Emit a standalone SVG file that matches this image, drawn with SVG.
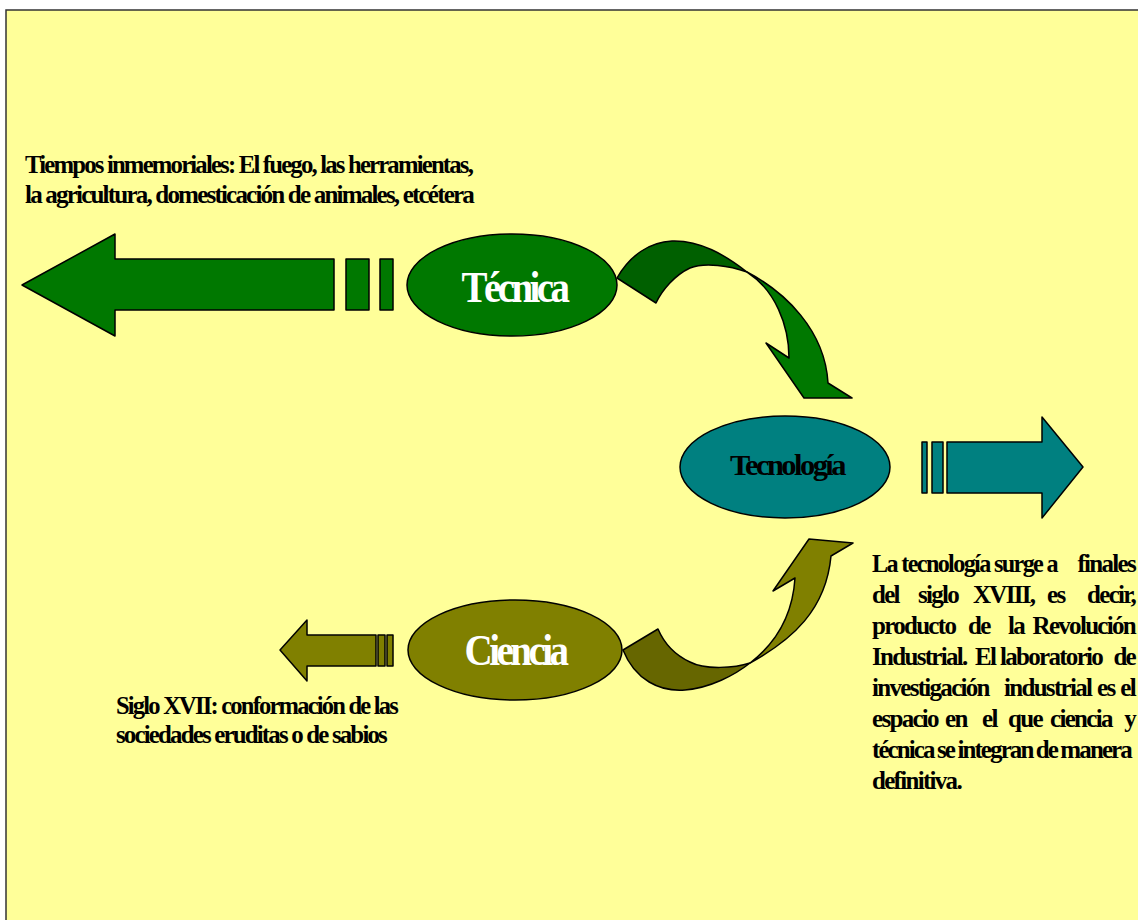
<svg xmlns="http://www.w3.org/2000/svg" width="1138" height="920" viewBox="0 0 1138 920">
<style>
.bg{fill:#FFFF99;stroke:#333;stroke-width:1.5}
.sh{stroke:#000;stroke-width:1.5;stroke-linejoin:round}
.t{font-family:"Liberation Serif","Times New Roman",serif;font-weight:bold}
.lbl{font-size:26px;letter-spacing:-1.9px;fill:#000}
.para{font-size:25px;letter-spacing:-1.7px;fill:#000}
.big{font-size:44px;letter-spacing:-4px;text-anchor:middle}
</style>
<rect class="bg" x="6" y="10" width="1140" height="920"/>
<g id="connectors">
  <g id="arrow-tecnica-left">
    <polygon class="sh" fill="#007800" points="22,285 115,234 115,259 334,259 334,310 115,310 115,336"/>
    <rect class="sh" fill="#007800" x="346" y="259" width="23" height="51"/>
    <rect class="sh" fill="#007800" x="380" y="259" width="13" height="51"/>
  </g>
  <g id="arrow-tecnica-tecnologia">
    <path class="sh" fill="#006000" d="M617,278 C630,255 650,242 672,241 C700,240 725,255 747,272 C730,266 705,262 690,268 C675,275 662,290 656,303 Z"/>
    <path class="sh" fill="#007800" d="M747,272 C785,292 825,330 828,383 L852,398 L804,398 L766,343 L789,358 C789,325 775,290 747,272 Z"/>
  </g>
  <g id="arrow-tecnologia-right">
    <rect class="sh" fill="#008080" x="922" y="442" width="5" height="51"/>
    <rect class="sh" fill="#008080" x="932" y="442" width="11" height="51"/>
    <polygon class="sh" fill="#008080" points="947,442 1042,442 1042,417 1083,467 1042,518 1042,493 947,493"/>
  </g>
  <g id="arrow-ciencia-left">
    <polygon class="sh" fill="#808000" points="280,650 307,620 307,635 376,635 376,666 307,666 307,681"/>
    <rect class="sh" fill="#808000" x="378" y="635" width="7" height="31"/>
    <rect class="sh" fill="#808000" x="387" y="635" width="6" height="31"/>
  </g>
  <g id="arrow-ciencia-tecnologia">
    <path class="sh" fill="#666600" d="M623,650 C635,680 660,692 685,690 C710,688 735,675 750,663 C735,668 705,670 690,662 C675,655 664,643 658,629 Z"/>
    <path class="sh" fill="#808000" d="M750,663 C792,640 826,610 831,556 L853,543 L809,539 L773,591 L795,578 C793,610 780,640 750,663 Z"/>
  </g>
</g>
<g id="node-tecnica">
  <ellipse class="sh" fill="#007800" cx="512" cy="285" rx="105" ry="51"/>
  <text class="t big" x="514" y="302" fill="#fff" textLength="105" lengthAdjust="spacingAndGlyphs">Técnica</text>
</g>
<g id="node-tecnologia">
  <ellipse class="sh" fill="#008080" cx="785" cy="467" rx="105" ry="51"/>
  <text class="t" x="787" y="475" font-size="30" letter-spacing="-2.5" text-anchor="middle" fill="#000" textLength="114" lengthAdjust="spacingAndGlyphs">Tecnología</text>
</g>
<g id="node-ciencia">
  <ellipse class="sh" fill="#808000" cx="515" cy="650" rx="107" ry="50"/>
  <text class="t big" x="515" y="665" fill="#fff" textLength="101" lengthAdjust="spacingAndGlyphs">Ciencia</text>
</g>
<g id="text-tiempos" class="t lbl">
  <text x="25" y="173" textLength="447" lengthAdjust="spacingAndGlyphs">Tiempos inmemoriales: El fuego, las herramientas,</text>
  <text x="25" y="203" textLength="448" lengthAdjust="spacingAndGlyphs">la agricultura, domesticación de animales, etcétera</text>
</g>
<g id="text-siglo" class="t lbl">
  <text x="116" y="714" textLength="281" lengthAdjust="spacingAndGlyphs">Siglo XVII: conformación de las</text>
  <text x="116" y="743" textLength="270" lengthAdjust="spacingAndGlyphs">sociedades eruditas o de sabios</text>
</g>
<g id="text-tecnologia" class="t para">
  <text x="872" y="572" textLength="185" lengthAdjust="spacingAndGlyphs">La tecnología surge a</text>
  <text x="1135" y="572" text-anchor="end">finales</text>
  <text x="872" y="603">del</text>
  <text x="918" y="603">siglo</text>
  <text x="973" y="603">XVIII,</text>
  <text x="1047" y="603">es</text>
  <text x="1135" y="603" text-anchor="end">decir,</text>
  <text x="872" y="634">producto</text>
  <text x="968" y="634">de</text>
  <text x="1008" y="634">la</text>
  <text x="1135" y="634" text-anchor="end">Revolución</text>
  <text x="872" y="665">Industrial.</text>
  <text x="975" y="665">El</text>
  <text x="1000" y="665">laboratorio</text>
  <text x="1135" y="665" text-anchor="end">de</text>
  <text x="872" y="696">investigación</text>
  <text x="1004" y="696">industrial</text>
  <text x="1097" y="696">es</text>
  <text x="1135" y="696" text-anchor="end">el</text>
  <text x="872" y="727">espacio</text>
  <text x="945" y="727">en</text>
  <text x="982" y="727">el</text>
  <text x="1008" y="727">que</text>
  <text x="1050" y="727">ciencia</text>
  <text x="1135" y="727" text-anchor="end">y</text>
  <text x="872" y="758" letter-spacing="-1.9" word-spacing="-1">técnica se integran de manera</text>
  <text x="872" y="789">definitiva.</text>
</g>
</svg>
